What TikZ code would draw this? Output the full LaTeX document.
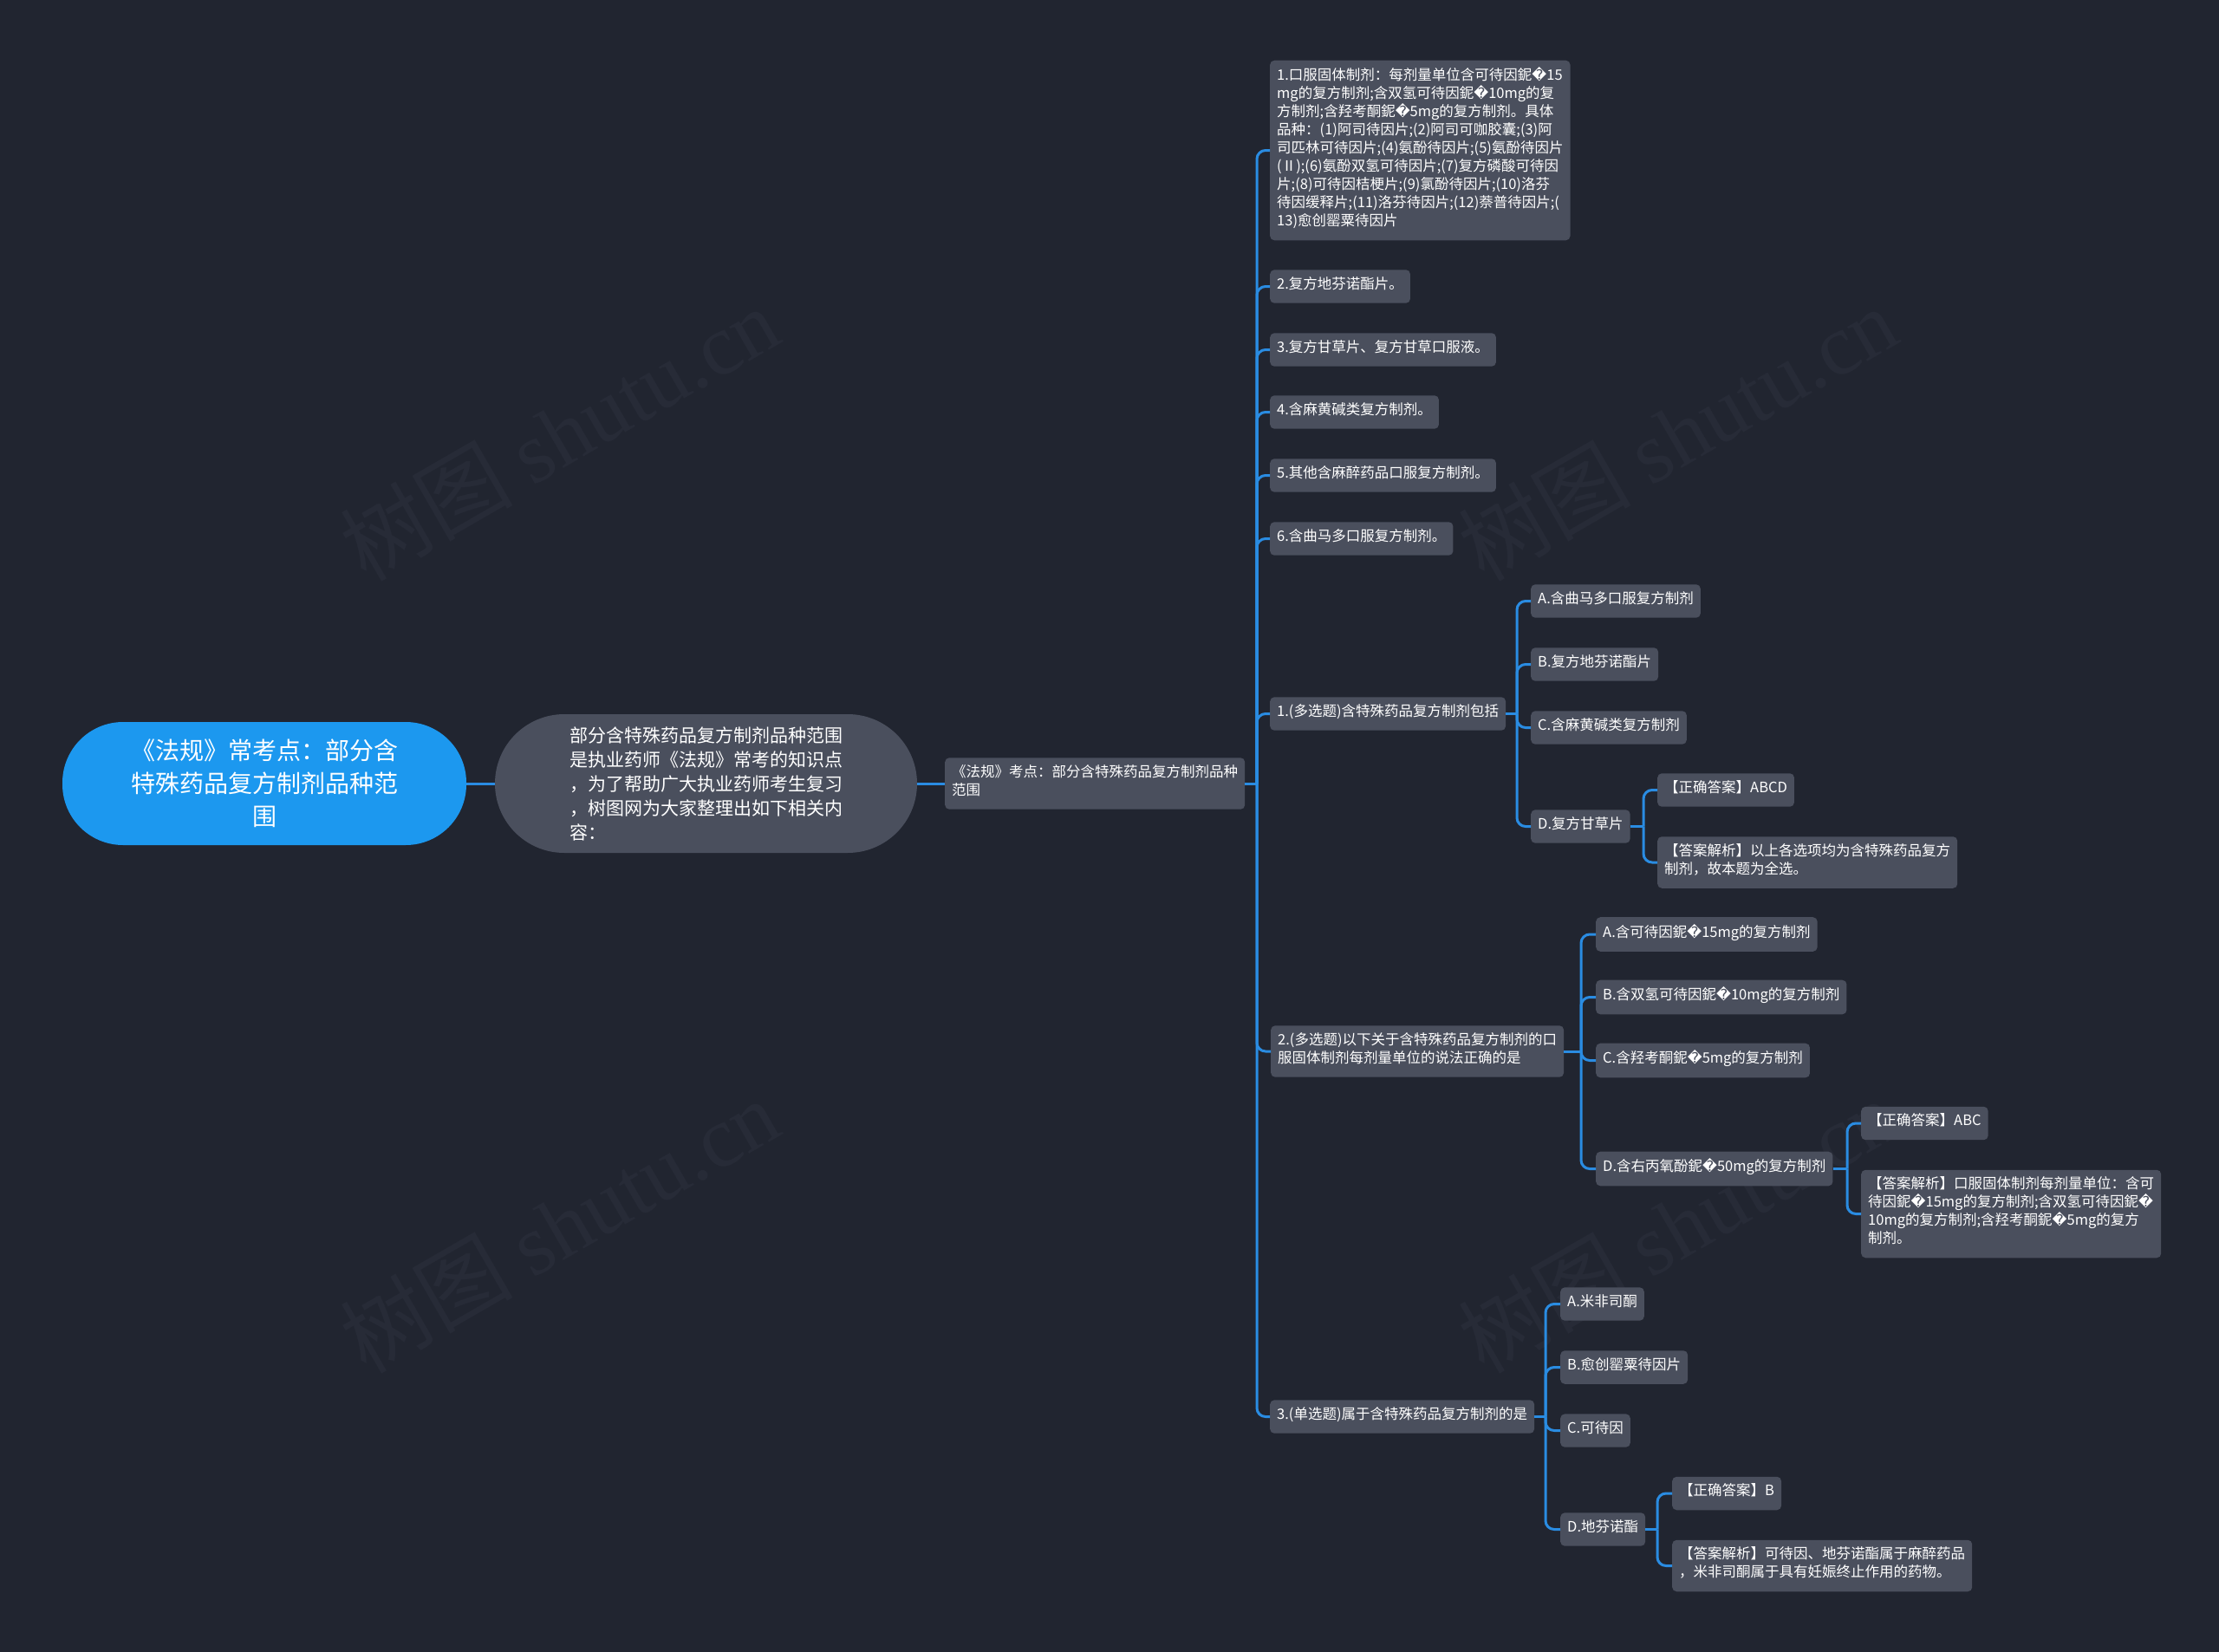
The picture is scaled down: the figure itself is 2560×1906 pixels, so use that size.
\documentclass[tikz,border=0pt]{standalone}
\usepackage{fontspec}
\setmainfont{Noto Sans CJK SC}
\newfontfamily\dejavu{DejaVu Sans}
\newfontfamily\wmserif{Liberation Serif}
\usetikzlibrary{calc}
\newcommand\rpl{{\dejavu\char"FFFD}}
\newcommand\mstrut{\rule[-8.5pt]{0pt}{21pt}}
\definecolor{bgc}{HTML}{212530}
\definecolor{boxc}{HTML}{4A4F5D}
\definecolor{rootc}{HTML}{1C98EF}
\definecolor{linec}{HTML}{2A8CE2}
\definecolor{wmc}{HTML}{272B37}
\newcommand\fs{\fontsize{16.5}{21}\selectfont}
\newcommand\mmlink[3]{\draw[conn] (#1.east) -- (#1.east -| #2);
  \draw[conn, rounded corners=10] (#1.east -| #2) |- (#3.west);}
\begin{document}
\begin{tikzpicture}[x=1pt,y=-1pt,
  conn/.style={draw=linec, line width=3pt},
  box/.style={fill=boxc, rounded corners=5, inner xsep=8, inner ysep=8, font=\fs,
    text=white, align=left, anchor=west,
    execute at begin node=\mstrut, execute at end node=\mstrut},
  wm/.style={text=wmc, rotate=30, font=\fontsize{100}{100}\selectfont}]
\fill[bgc] (0,0) rectangle (2560,1906);
\useasboundingbox (0,0) rectangle (2560,1906);
% watermarks
\node[wm] (w1) at (645,500) {树图 {\wmserif shutu.cn}};
\node[wm] (w2) at (1935,500) {树图 {\wmserif shutu.cn}};
\node[wm] (w3) at (645,1414) {树图 {\wmserif shutu.cn}};
\node[wm] (w4) at (1935,1414) {树图 {\wmserif shutu.cn}};
% trunk coordinates
\coordinate (t0) at (1450,0);
\coordinate (t1) at (1750,0);
\coordinate (t1d) at (1896,0);
\coordinate (t2) at (1824,0);
\coordinate (t2d) at (2131,0);
\coordinate (t3) at (1783,0);
\coordinate (t3d) at (1912,0);
% root and intro
\node[fill=rootc, rounded corners=70, minimum width=466, minimum height=142,
  text=white, align=center, font=\fontsize{28}{38}\selectfont] (root) at (305,904)
  {《法规》常考点：部分含\\特殊药品复方制剂品种范\\围};
\node[fill=boxc, rounded corners=80, minimum width=487, minimum height=160,
  text=white, align=left, font=\fontsize{21}{28}\selectfont] (intro) at (814.5,904)
  {部分含特殊药品复方制剂品种范围\\是执业药师《法规》常考的知识点\\，为了帮助广大执业药师考生复习\\，树图网为大家整理出如下相关内\\容：};
\node[box] (c) at (1090,904) {《法规》考点：部分含特殊药品复方制剂品种\\范围};
% level 1
\node[box] (n1) at (1465,173.5) {1.口服固体制剂：每剂量单位含可待因鈮\rpl15\\mg的复方制剂;含双氢可待因鈮\rpl10mg的复\\方制剂;含羟考酮鈮\rpl5mg的复方制剂。具体\\品种：(1)阿司待因片;(2)阿司可咖胶囊;(3)阿\\司匹林可待因片;(4)氨酚待因片;(5)氨酚待因片\\(Ⅱ);(6)氨酚双氢可待因片;(7)复方磷酸可待因\\片;(8)可待因桔梗片;(9)氯酚待因片;(10)洛芬\\待因缓释片;(11)洛芬待因片;(12)萘普待因片;(\\13)愈创罂粟待因片};
\node[box] (n2) at (1465,330.5) {2.复方地芬诺酯片。};
\node[box] (n3) at (1465,403.5) {3.复方甘草片、复方甘草口服液。};
\node[box] (n4) at (1465,475.5) {4.含麻黄碱类复方制剂。};
\node[box] (n5) at (1465,548.5) {5.其他含麻醉药品口服复方制剂。};
\node[box] (n6) at (1465,621.5) {6.含曲马多口服复方制剂。};
\node[box] (q1) at (1465,823.5) {1.(多选题)含特殊药品复方制剂包括};
\node[box] (q2) at (1466,1213) {2.(多选题)以下关于含特殊药品复方制剂的口\\服固体制剂每剂量单位的说法正确的是};
\node[box] (q3) at (1465,1634.5) {3.(单选题)属于含特殊药品复方制剂的是};
% q1 children
\node[box] (q1a) at (1766,693.5) {A.含曲马多口服复方制剂};
\node[box] (q1b) at (1766,766.5) {B.复方地芬诺酯片};
\node[box] (q1c) at (1766,839.5) {C.含麻黄碱类复方制剂};
\node[box] (q1d) at (1766,953.5) {D.复方甘草片};
\node[box] (q1r) at (1912,911.5) {【正确答案】ABCD};
\node[box] (q1x) at (1912,995) {【答案解析】以上各选项均为含特殊药品复方\\制剂，故本题为全选。};
% q2 children
\node[box] (q2a) at (1841,1078) {A.含可待因鈮\rpl15mg的复方制剂};
\node[box] (q2b) at (1841,1150.5) {B.含双氢可待因鈮\rpl10mg的复方制剂};
\node[box] (q2c) at (1841,1223.5) {C.含羟考酮鈮\rpl5mg的复方制剂};
\node[box] (q2d) at (1841,1348.5) {D.含右丙氧酚鈮\rpl50mg的复方制剂};
\node[box] (q2r) at (2147,1296) {【正确答案】ABC};
\node[box] (q2x) at (2147,1400.5) {【答案解析】口服固体制剂每剂量单位：含可\\待因鈮\rpl15mg的复方制剂;含双氢可待因鈮\rpl\\10mg的复方制剂;含羟考酮鈮\rpl5mg的复方\\制剂。};
% q3 children
\node[box] (q3a) at (1800,1504.5) {A.米非司酮};
\node[box] (q3b) at (1800,1577.5) {B.愈创罂粟待因片};
\node[box] (q3c) at (1800,1650.5) {C.可待因};
\node[box] (q3d) at (1800,1764.5) {D.地芬诺酯};
\node[box] (q3r) at (1929,1723) {【正确答案】B};
\node[box] (q3x) at (1929,1806.5) {【答案解析】可待因、地芬诺酯属于麻醉药品\\，米非司酮属于具有妊娠终止作用的药物。};
% connectors
\draw[conn] (root.east) -- (intro.west);
\draw[conn] (intro.east) -- (c.west);
\foreach \ch in {n1,n2,n3,n4,n5,n6,q1,q2,q3} {\mmlink{c}{t0}{\ch}}
\foreach \ch in {q1a,q1b,q1c,q1d} {\mmlink{q1}{t1}{\ch}}
\foreach \ch in {q1r,q1x} {\mmlink{q1d}{t1d}{\ch}}
\foreach \ch in {q2a,q2b,q2c,q2d} {\mmlink{q2}{t2}{\ch}}
\foreach \ch in {q2r,q2x} {\mmlink{q2d}{t2d}{\ch}}
\foreach \ch in {q3a,q3b,q3c,q3d} {\mmlink{q3}{t3}{\ch}}
\foreach \ch in {q3r,q3x} {\mmlink{q3d}{t3d}{\ch}}
\end{tikzpicture}
\end{document}
